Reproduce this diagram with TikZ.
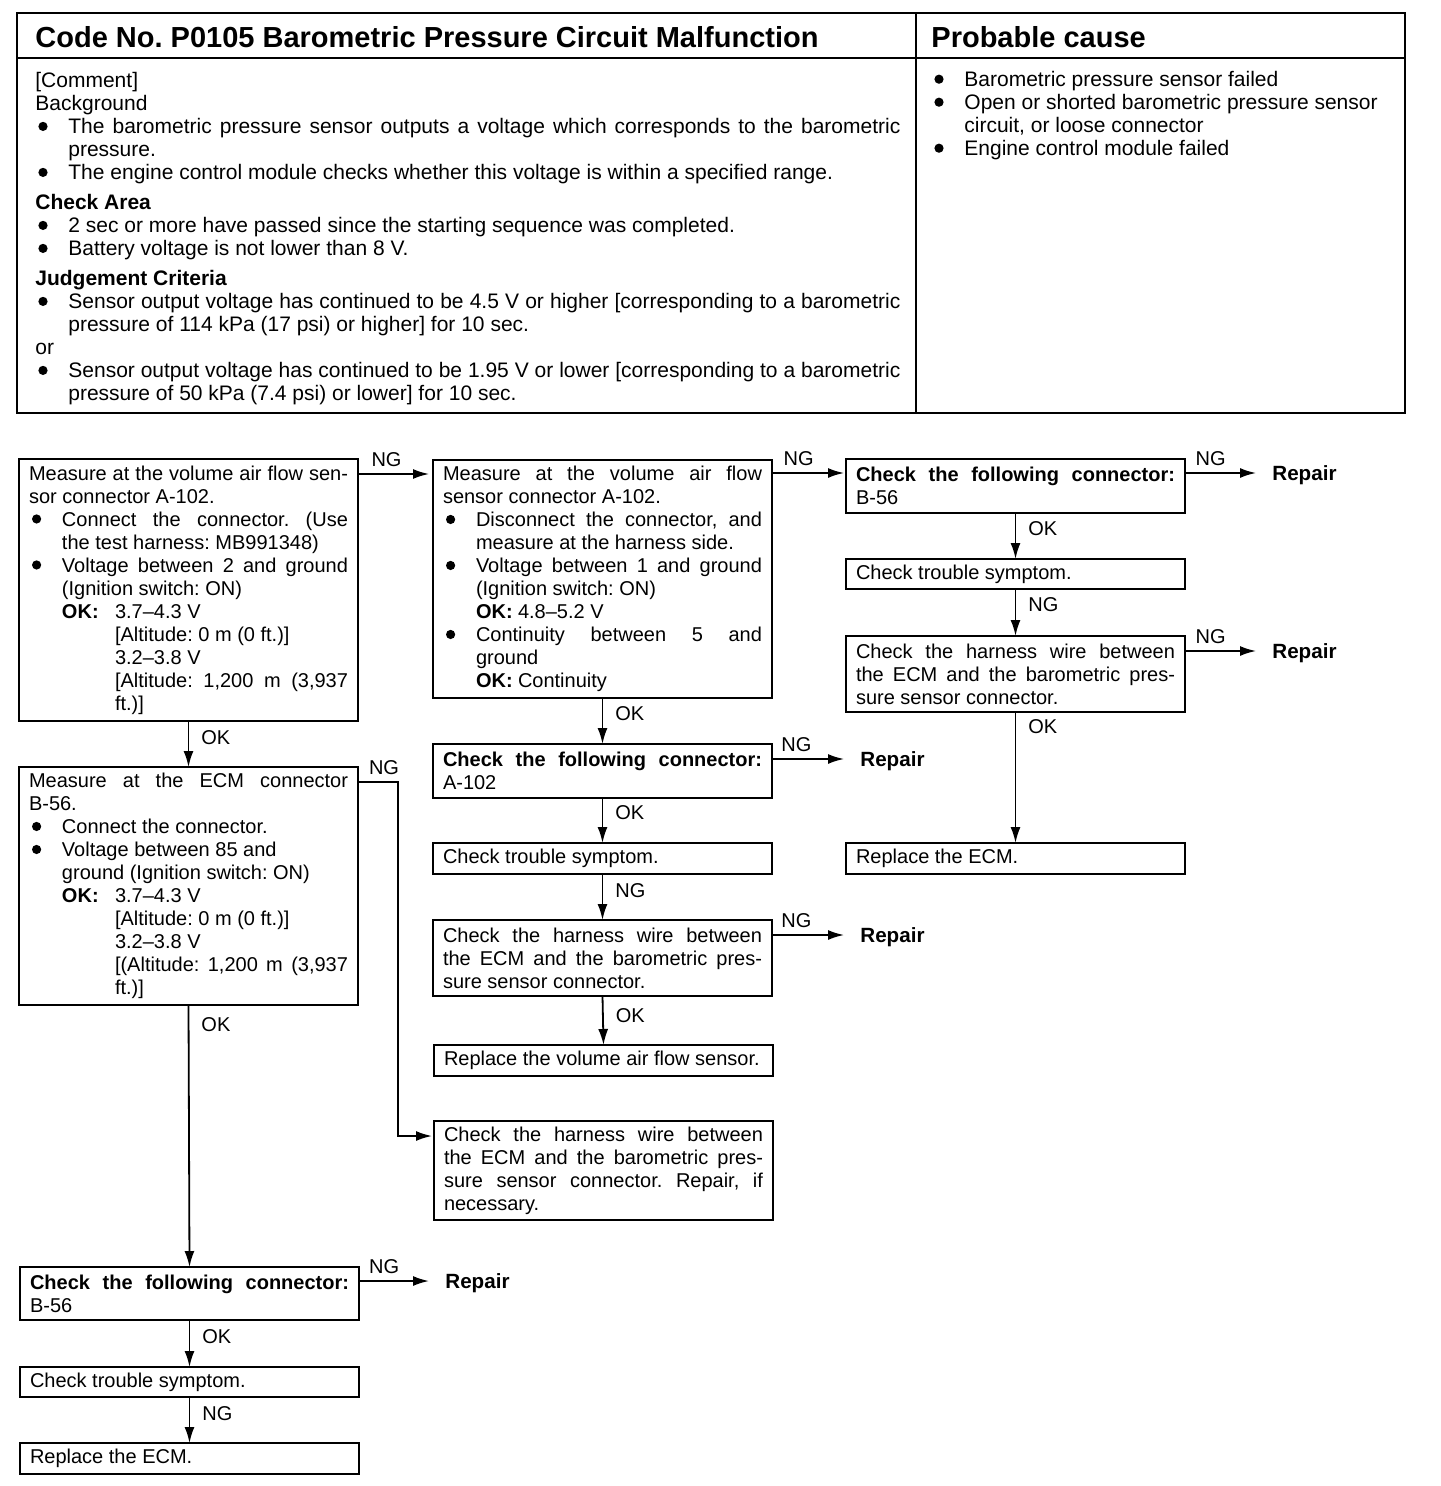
\documentclass[tikz,border=0pt]{standalone}
\usepackage{fontspec}
\setmainfont{Liberation Sans}
\usetikzlibrary{arrows.meta,calc}
\setlength\parindent{0pt}
\setlength\parskip{0pt}
\frenchspacing
\tolerance=10000
\hyphenpenalty=10000
\exhyphenpenalty=10000
\newcommand\bul{\tikz[baseline=-3.6pt]\fill (0,0) circle (2.3pt);}
\newcommand\bitem[1]{\par\noindent\hangindent=16.5pt\hangafter=1\makebox[16.5pt][l]{\hspace{1.5pt}\bul}#1\par}
\newcommand\okA[2][26.5pt]{\par\noindent\hangindent=\dimexpr16.5pt+#1\relax\hangafter=1\hspace*{16.5pt}\makebox[#1][l]{\textbf{OK:}}#2\par}
\tikzset{
  bx/.style={draw, line width=1pt, anchor=north west, outer sep=0pt, inner xsep=5pt, inner ysep=0pt,
    text width=159.5pt, align=justify, font=\fontsize{10}{11.5}\selectfont},
  arr/.style={line width=0.9pt, -{Latex[length=8pt,width=5pt]}},
  lab/.style={inner sep=0pt, font=\fontsize{10}{12}\selectfont},
  rep/.style={anchor=west, inner xsep=8pt, inner ysep=0pt, text depth=0pt, font=\bfseries\fontsize{10.3}{12}\selectfont},
  tline/.style={line width=1pt}
}
\begin{document}
\begin{tikzpicture}[x=0.5pt,y=-0.5pt]
\useasboundingbox (0,0) rectangle (1440,1486);
\fill[white] (0,0) rectangle (1440,1486);

% ---------- top table ----------
\draw[tline] (17,13) rectangle (1405,413);
\draw[tline] (17,58) -- (1405,58);
\draw[tline] (916,13) -- (916,413);
\node[anchor=west, inner sep=0pt, font=\bfseries\fontsize{14.5}{17}\selectfont] (h1) at (35,37)
  {Code No. P0105 Barometric Pressure Circuit Malfunction};
\node[anchor=west, inner sep=0pt, font=\bfseries\fontsize{14.5}{17}\selectfont] (h2) at (931,37)
  {Probable cause};
\node[anchor=north west, inner sep=0pt, text width=432.5pt, align=justify,
      font=\fontsize{10.5}{11.5}\selectfont] (body) at (35,72) {%
\noindent[Comment]\par
\noindent Background\par
\bitem{The barometric pressure sensor outputs a voltage which corresponds to the barometric\linebreak pressure.}
\bitem{The engine control module checks whether this voltage is within a specified range.}
\vspace{3.5pt}\noindent\textbf{Check Area}\par
\bitem{2 sec or more have passed since the starting sequence was completed.}
\bitem{Battery voltage is not lower than 8 V.}
\vspace{3.5pt}\noindent\textbf{Judgement Criteria}\par
\bitem{Sensor output voltage has continued to be 4.5 V or higher [corresponding to a barometric\linebreak pressure of 114 kPa (17 psi) or higher] for 10 sec.}
\noindent or\par
\bitem{Sensor output voltage has continued to be 1.95 V or lower [corresponding to a barometric\linebreak pressure of 50 kPa (7.4 psi) or lower] for 10 sec.}
};
\node[anchor=north west, inner sep=0pt, text width=228pt, align=justify,
      font=\fontsize{10.5}{11.5}\selectfont] (cause) at (931,63) {%
\bitem{Barometric pressure sensor failed}
\bitem{Open or shorted barometric pressure sensor\newline circuit, or loose connector}
\bitem{Engine control module failed}
};

% ---------- column A ----------
\node[bx, minimum height=131pt] (b1) at (19,459) {%
\noindent Measure at the volume air flow sen-\linebreak sor connector A-102.\par
\bitem{Connect the connector. (Use\linebreak the test harness: MB991348)}
\bitem{Voltage between 2 and ground\linebreak (Ignition switch: ON)}
\okA{3.7--4.3 V\\{}[Altitude: 0 m (0 ft.)]\\{}3.2--3.8 V\\{}[Altitude: 1,200 m (3,937\linebreak ft.)]}
};
\node[bx, minimum height=119pt] (b12) at (19,767) {%
\noindent Measure at the ECM connector\linebreak B-56.\par
\bitem{Connect the connector.}
\bitem{Voltage between 85 and\\ ground (Ignition switch: ON)}
\okA{3.7--4.3 V\\{}[Altitude: 0 m (0 ft.)]\\{}3.2--3.8 V\\{}[(Altitude: 1,200 m (3,937\linebreak ft.)]}
};
\node[bx, minimum height=26.5pt] (b13) at (20,1267) {%
\noindent\textbf{Check the following connector:}\linebreak B-56};
\node[bx, minimum height=15pt] (b14) at (20,1367) {Check trouble symptom.};
\node[bx, minimum height=15.5pt] (b15) at (20,1443) {Replace the ECM.};

% ---------- column B ----------
\node[bx, minimum height=119pt] (b2) at (433,460) {%
\noindent Measure at the volume air flow\linebreak sensor connector A-102.\par
\bitem{Disconnect the connector, and\linebreak measure at the harness side.}
\bitem{Voltage between 1 and ground\linebreak (Ignition switch: ON)}
\okA[21pt]{4.8--5.2 V}
\bitem{Continuity between 5 and\linebreak ground}
\okA[21pt]{Continuity}
};
\node[bx, minimum height=27pt] (b7) at (433,744) {%
\noindent\textbf{Check the following connector:}\linebreak A-102};
\node[bx, minimum height=15.5pt] (b8) at (433,843) {Check trouble symptom.};
\node[bx, minimum height=38pt] (b9) at (433,920) {%
\noindent Check the harness wire between\linebreak the ECM and the barometric pres-\linebreak sure sensor connector.};
\node[bx, minimum height=15.5pt] (b10) at (434,1045) {Replace the volume air flow sensor.};
\node[bx, minimum height=49.5pt] (b11) at (434,1121) {%
\noindent Check the harness wire between\linebreak the ECM and the barometric pres-\linebreak sure sensor connector. Repair, if\linebreak necessary.};

% ---------- column C ----------
\node[bx, minimum height=27pt] (b3) at (846,459) {%
\noindent\textbf{Check the following connector:}\linebreak B-56};
\node[bx, minimum height=15pt] (b4) at (846,559) {Check trouble symptom.};
\node[bx, minimum height=38pt] (b5) at (846,636) {%
\noindent Check the harness wire between\linebreak the ECM and the barometric pres-\linebreak sure sensor connector.};
\node[bx, minimum height=15.5pt] (b6) at (846,843) {Replace the ECM.};

% ---------- Repair nodes ----------
\node[rep] (r1) at (1256,473) {Repair};
\node[rep] (r2) at (1256,651) {Repair};
\node[rep] (r3) at (844,759) {Repair};
\node[rep] (r4) at (844,935) {Repair};
\node[rep] (r5) at (429,1281) {Repair};

% ---------- connectors ----------
\draw[arr, shorten >=2pt] ([yshift=-7.5pt]b1.north east) -- node[lab, above=3pt, pos=0.38]{NG} ([yshift=-7.5pt]b1.north east -| b2.west);
\draw[arr, shorten >=1pt] ([yshift=-6.5pt]b2.north east) -- node[lab, above=3pt, pos=0.36]{NG} ([yshift=-6.5pt]b2.north east -| b3.west);
\draw[arr] (b3.east |- r1.west) -- node[lab, above=3pt, pos=0.36]{NG} (r1.west);
\draw[arr] (b5.east |- r2.west) -- node[lab, above=3pt, pos=0.36]{NG} (r2.west);
\draw[arr] (b7.east |- r3.west) -- node[lab, above=3pt, pos=0.34]{NG} (r3.west);
\draw[arr] (b9.east |- r4.west) -- node[lab, above=3pt, pos=0.34]{NG} (r4.west);
\draw[arr] (b13.east |- r5.west) -- node[lab, above=3pt, pos=0.36]{NG} (r5.west);

\draw[arr] (b1.south) -- node[lab, right=6pt, pos=0.37]{OK} (b12.north);
\draw[arr] (b12.south) -- node[lab, right=6pt, pos=0.076]{OK} (b13.north);
\draw[arr] (b13.south) -- node[lab, right=6pt, pos=0.36]{OK} (b14.north);
\draw[arr] (b14.south) -- node[lab, right=6pt, pos=0.37]{NG} (b15.north);

\draw[arr] (b2.south) -- node[lab, right=6pt, pos=0.35]{OK} (b7.north);
\draw[arr] (b7.south) -- node[lab, right=6pt, pos=0.33]{OK} (b8.north);
\draw[arr] (b8.south) -- node[lab, right=6pt, pos=0.37]{NG} (b9.north);
\draw[arr] (b9.south) -- node[lab, right=6pt, pos=0.39]{OK} (b10.north);

\draw[arr] (b3.south) -- node[lab, right=6pt, pos=0.35]{OK} (b4.north);
\draw[arr] (b4.south) -- node[lab, right=6pt, pos=0.34]{NG} (b5.north);
\draw[arr] (b5.south) -- node[lab, right=6pt, pos=0.11]{OK} (b6.north);

\draw[arr, shorten >=1pt] ([yshift=-7.5pt]b12.north east) -- node[lab, above=3pt, pos=0.65]{NG} ++(20pt,0) |- ([yshift=-7.5pt]b11.north west);
\end{tikzpicture}
\end{document}
